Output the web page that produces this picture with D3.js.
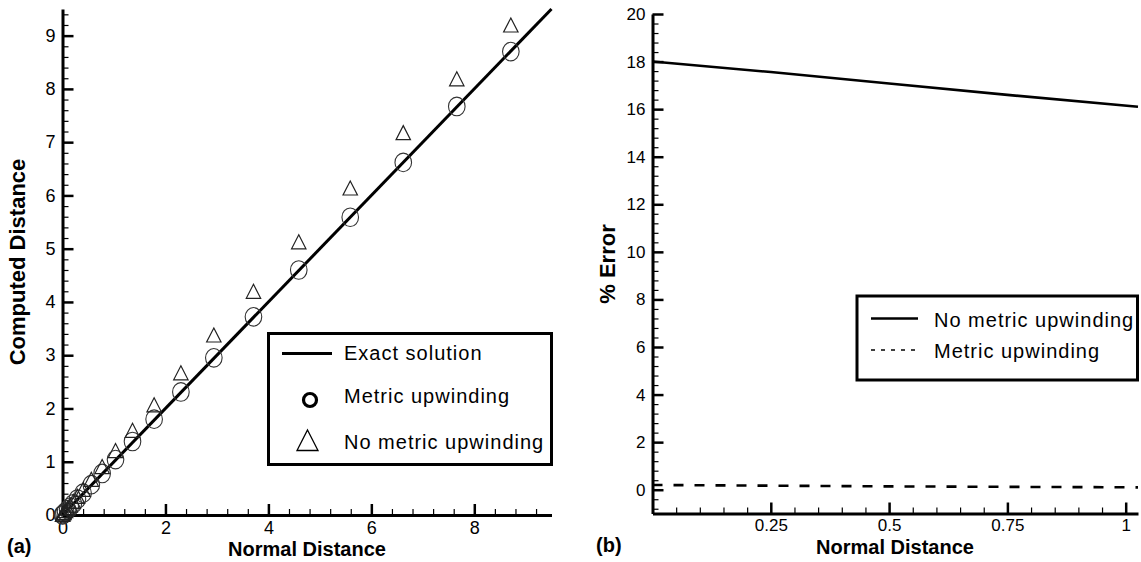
<!DOCTYPE html>
<html>
<head>
<meta charset="utf-8">
<script src="https://cdn.jsdelivr.net/npm/d3@7"></script>
<style>
  html, body { margin: 0; padding: 0; background: #fff; }
  svg { display: block; font-family: "Liberation Sans", Arial, Helvetica, sans-serif; }
  .axis path { stroke: #000; stroke-width: 3; }
  .axis .major line { stroke: #000; stroke-width: 2.5; }
  .axis .minor line { stroke: #000; stroke-width: 1.2; }
  .tick text { fill: #000; }
  .title { font-weight: bold; fill: #000; }
  .leg text { font-size: 20px; letter-spacing: 1px; fill: #000; }
</style>
</head>
<body>
<svg id="chart" width="1141" height="562"></svg>
<script>
/* ---------- data ---------- */

// (a) computed vs normal distance
const normalDist   = [0, 0.01, 0.03, 0.06, 0.1, 0.15, 0.21, 0.29, 0.4, 0.56, 0.77, 1.03, 1.36, 1.78, 2.30, 2.94, 3.71, 4.59, 5.59, 6.62, 7.66, 8.71];
const metricUpw    = [0, 0.01, 0.03, 0.06, 0.1, 0.15, 0.21, 0.30, 0.41, 0.57, 0.78, 1.04, 1.38, 1.80, 2.31, 2.95, 3.72, 4.60, 5.59, 6.62, 7.67, 8.70];
const noMetricUpw  = [0, 0.012, 0.035, 0.071, 0.118, 0.177, 0.247, 0.34, 0.47, 0.66, 0.90, 1.20, 1.58, 2.06, 2.66, 3.37, 4.19, 5.12, 6.13, 7.17, 8.18, 9.19];
const exactX       = [0, 9.5];

// (b) percent error vs normal distance
const errDist      = [0, 0.25, 0.5, 0.75, 1.026];
const errNoMetric  = [18.0, 17.56, 17.08, 16.6, 16.1];
const errMetric    = [0.2, 0.17, 0.14, 0.12, 0.1];

// tick labels
const aXTicks = [0, 2, 4, 6, 8];
const aYTicks = [0, 1, 2, 3, 4, 5, 6, 7, 8, 9];
const bXTicks = [0.25, 0.5, 0.75, 1];
const bYTicks = [0, 2, 4, 6, 8, 10, 12, 14, 16, 18, 20];

const svg = d3.select('#chart');

function drawAxis(g, axisFn, scale, majors, minors, fmt, fontSize, pad) {
  g.append('g').attr('class', 'minor')
    .call(axisFn(scale).tickValues(minors).tickSizeInner(-6).tickSizeOuter(0).tickFormat(''))
    .select('.domain').remove();
  const maj = g.append('g').attr('class', 'major')
    .call(axisFn(scale).tickValues(majors).tickSizeInner(-11).tickSizeOuter(0).tickPadding(pad).tickFormat(fmt));
  maj.selectAll('.tick text').attr('font-size', fontSize);
  maj.select('.domain').attr('stroke-width', 3);
  g.attr('font-family', null);
  maj.attr('font-family', null);
}

/* ---------- (a) ---------- */
function drawPanelA() {
  const x = d3.scaleLinear().domain([0, 9.5]).range([62.5, 551.5]);
  const y = d3.scaleLinear().domain([0, 9.5]).range([515, 9]);

  const gx = svg.append('g').attr('class', 'axis').attr('transform', `translate(0,${y(0)})`);
  drawAxis(gx, d3.axisBottom, x, aXTicks, d3.range(0, 9.51, 0.4).filter(v => Math.abs(v / 2 - Math.round(v / 2)) > 1e-6), d3.format('d'), 18, 6);

  const gy = svg.append('g').attr('class', 'axis').attr('transform', `translate(${x(0)},0)`);
  drawAxis(gy, d3.axisLeft, y, aYTicks, d3.range(0, 9.51, 0.2).filter(v => Math.abs(v - Math.round(v)) > 1e-6), d3.format('d'), 18, 7);

  // exact solution
  svg.append('path')
    .datum(exactX)
    .attr('fill', 'none').attr('stroke', '#000').attr('stroke-width', 3)
    .attr('d', d3.line().x(d => x(d)).y(d => y(d)));

  // metric upwinding circles
  svg.append('g').selectAll('ellipse')
    .data(normalDist.map((d, i) => ({ x: d, y: metricUpw[i] })))
    .enter().append('ellipse')
      .attr('cx', d => x(d.x)).attr('cy', d => y(d.y))
      .attr('rx', 8.3).attr('ry', 9.3)
      .attr('fill', 'none').attr('stroke', '#333').attr('stroke-width', 1.1);

  // no metric upwinding triangles
  svg.append('g').selectAll('path')
    .data(normalDist.map((d, i) => ({ x: d, y: noMetricUpw[i] })))
    .enter().append('path')
      .attr('d', d => {
        const cx = x(d.x), cy = y(d.y);
        return `M${cx},${cy - 7.5}L${cx + 7.2},${cy + 6.5}L${cx - 7.2},${cy + 6.5}Z`;
      })
      .attr('fill', 'none').attr('stroke', '#222').attr('stroke-width', 1.2);

  // titles
  svg.append('text').attr('class', 'title')
    .attr('x', 307).attr('y', 556).attr('text-anchor', 'middle').attr('font-size', 20)
    .text('Normal Distance');
  svg.append('text').attr('class', 'title')
    .attr('transform', 'translate(25,262) rotate(-90)')
    .attr('text-anchor', 'middle').attr('font-size', 22)
    .text('Computed Distance');
  svg.append('text').attr('class', 'title')
    .attr('x', 7).attr('y', 553).attr('font-size', 20).text('(a)');

  // legend
  const leg = svg.append('g').attr('class', 'leg');
  leg.append('rect').attr('x', 268.5).attr('y', 333.5).attr('width', 283).attr('height', 131)
    .attr('fill', '#fff').attr('stroke', '#000').attr('stroke-width', 3);
  leg.append('line').attr('x1', 282).attr('x2', 332).attr('y1', 353.5).attr('y2', 353.5)
    .attr('stroke', '#000').attr('stroke-width', 3);
  leg.append('circle').attr('cx', 310).attr('cy', 400).attr('r', 6.5)
    .attr('fill', 'none').attr('stroke', '#000').attr('stroke-width', 3.2);
  leg.append('path').attr('d', 'M307.5,430L318,450.5L297,450.5Z')
    .attr('fill', 'none').attr('stroke', '#000').attr('stroke-width', 1.3);
  const labels = ['Exact solution', 'Metric upwinding', 'No metric upwinding'];
  const ys = [360, 403, 449];
  labels.forEach((t, i) => leg.append('text').attr('x', 344).attr('y', ys[i]).text(t));
}

/* ---------- (b) ---------- */
function drawPanelB() {
  const x = d3.scaleLinear().domain([0, 1.026]).range([652.5, 1138]);
  const y = d3.scaleLinear().domain([-1, 20]).range([513.5, 14]);

  const gx = svg.append('g').attr('class', 'axis').attr('transform', `translate(0,${y(-1)})`);
  drawAxis(gx, d3.axisBottom, x, bXTicks, d3.range(0.05, 1.026, 0.05).filter(v => Math.abs(v / 0.25 - Math.round(v / 0.25)) > 1e-6), d => String(d), 17, 5);

  const gy = svg.append('g').attr('class', 'axis').attr('transform', `translate(${x(0)},0)`);
  drawAxis(gy, d3.axisLeft, y, bYTicks, d3.range(-0.8, 20.01, 0.4).filter(v => Math.abs(v / 2 - Math.round(v / 2)) > 1e-6), d3.format('d'), 17, 7);

  const line = d3.line().x((d, i) => x(errDist[i])).y(d => y(d));

  svg.append('path').datum(errNoMetric)
    .attr('fill', 'none').attr('stroke', '#000').attr('stroke-width', 2.6)
    .attr('d', line);
  svg.append('path').datum(errMetric)
    .attr('fill', 'none').attr('stroke', '#000').attr('stroke-width', 2.6)
    .attr('stroke-dasharray', '10,11')
    .attr('d', line);

  svg.append('text').attr('class', 'title')
    .attr('x', 895).attr('y', 554).attr('text-anchor', 'middle').attr('font-size', 20)
    .text('Normal Distance');
  svg.append('text').attr('class', 'title')
    .attr('transform', 'translate(615,264) rotate(-90)')
    .attr('text-anchor', 'middle').attr('font-size', 22)
    .text('% Error');
  svg.append('text').attr('class', 'title')
    .attr('x', 596).attr('y', 552).attr('font-size', 20).text('(b)');

  const leg = svg.append('g').attr('class', 'leg');
  leg.append('rect').attr('x', 857).attr('y', 296).attr('width', 280.5).attr('height', 84)
    .attr('fill', '#fff').attr('stroke', '#000').attr('stroke-width', 3);
  leg.append('line').attr('x1', 871).attr('x2', 918).attr('y1', 318.5).attr('y2', 318.5)
    .attr('stroke', '#000').attr('stroke-width', 2.6);
  leg.append('line').attr('x1', 871).attr('x2', 918).attr('y1', 350).attr('y2', 350)
    .attr('stroke', '#000').attr('stroke-width', 1.5).attr('stroke-dasharray', '4,6');
  leg.append('text').attr('x', 934).attr('y', 327).text('No metric upwinding');
  leg.append('text').attr('x', 934).attr('y', 358).text('Metric upwinding');
}

drawPanelA();
drawPanelB();
</script>
</body>
</html>
